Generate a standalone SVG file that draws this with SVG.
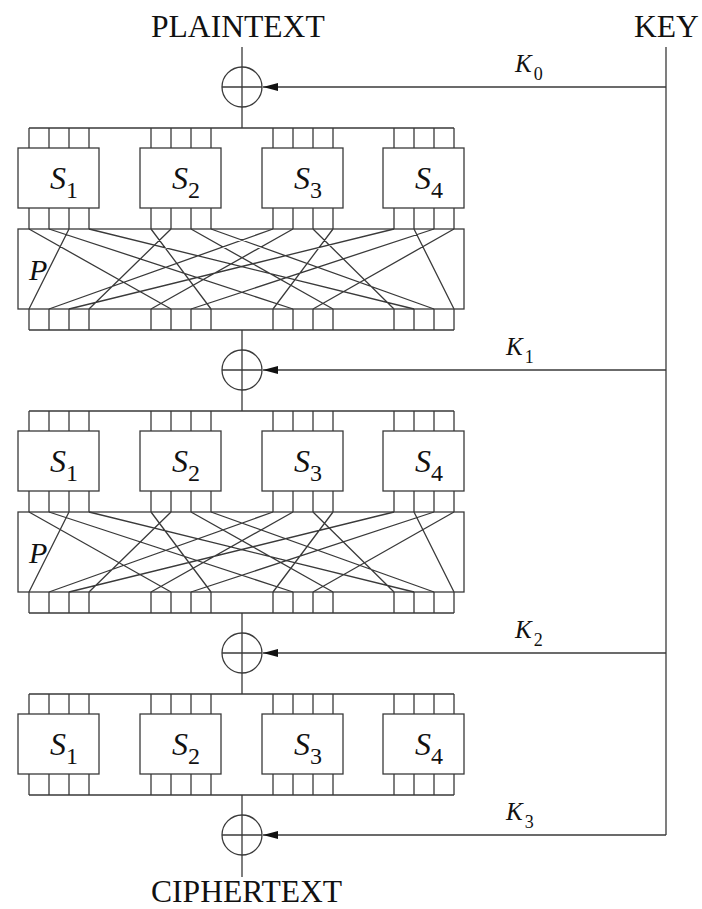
<svg xmlns="http://www.w3.org/2000/svg" xmlns:xlink="http://www.w3.org/1999/xlink" width="702" height="909" viewBox="0 0 702 909">
<style>
.ln{stroke:#3a3a3a;stroke-width:1.3;fill:none}
.bx{stroke:#3a3a3a;stroke-width:1.3;fill:#fff}
.pb{stroke:#3a3a3a;stroke-width:1.3;fill:none}
.t{font-family:"Liberation Serif","Times New Roman",serif;fill:#111}
.big{font-size:31.6px}
.sl{font-size:32px;font-style:italic}
.kl{font-size:25px;font-style:italic}
.sub{font-style:normal}
.ss{font-size:24px}
.ks{font-size:18px}
</style>
<defs>
<marker id="ah" viewBox="0 0 15 8" refX="15" refY="4" markerWidth="15" markerHeight="8" markerUnits="userSpaceOnUse" orient="auto">
<polygon points="0,0 15,4 0,8" fill="#111"/>
</marker>
<path id="pins20" d="M29 0V20M49 0V20M69 0V20M89 0V20M151 0V20M171 0V20M191 0V20M211 0V20M273 0V20M293 0V20M313 0V20M333 0V20M394 0V20M414 0V20M434 0V20M454 0V20"/>
<path id="pins21" d="M29 0V21M49 0V21M69 0V21M89 0V21M151 0V21M171 0V21M191 0V21M211 0V21M273 0V21M293 0V21M313 0V21M333 0V21M394 0V21M414 0V21M434 0V21M454 0V21"/>
<path id="wires" d="M29 0L171 80M49 0L293 80M69 0L29 80M89 0L414 80M151 0L211 80M171 0L89 80M191 0L333 80M211 0L434 80M273 0L49 80M293 0L151 80M313 0L394 80M333 0L273 80M394 0L69 80M414 0L454 80M434 0L191 80M454 0L313 80"/>
</defs>

<g id="connectors" class="ln">
<path d="M242 47V128M242 330V411M242 613V694M242 795V877"/>
<path d="M666 47V835"/>
<path d="M29 128H454M29 330H454M29 411H454M29 613H454M29 694H454M29 795H454"/>
<use xlink:href="#pins20" y="128"/>
<use xlink:href="#pins21" y="208"/>
<use xlink:href="#pins21" y="309"/>
<use xlink:href="#pins20" y="411"/>
<use xlink:href="#pins21" y="491"/>
<use xlink:href="#pins21" y="592"/>
<use xlink:href="#pins20" y="694"/>
<use xlink:href="#pins21" y="774"/>
<path d="M666 87H263" marker-end="url(#ah)"/>
<path d="M666 370H263" marker-end="url(#ah)"/>
<path d="M666 653H263" marker-end="url(#ah)"/>
<path d="M666 835H263" marker-end="url(#ah)"/>
</g>

<g id="xor0" class="ln"><circle cx="242" cy="87" r="20"/><path d="M222 87H262"/></g>
<g id="xor1" class="ln"><circle cx="242" cy="370" r="20"/><path d="M222 370H262"/></g>
<g id="xor2" class="ln"><circle cx="242" cy="653" r="20"/><path d="M222 653H262"/></g>
<g id="xor3" class="ln"><circle cx="242" cy="835" r="20"/><path d="M222 835H262"/></g>

<g id="r1s1"><rect class="bx" x="18" y="148" width="81" height="60"/><text class="t sl" x="50" y="189">S<tspan class="sub ss" dy="9">1</tspan></text></g>
<g id="r1s2"><rect class="bx" x="140" y="148" width="81" height="60"/><text class="t sl" x="172" y="189">S<tspan class="sub ss" dy="9">2</tspan></text></g>
<g id="r1s3"><rect class="bx" x="262" y="148" width="81" height="60"/><text class="t sl" x="294" y="189">S<tspan class="sub ss" dy="9">3</tspan></text></g>
<g id="r1s4"><rect class="bx" x="383" y="148" width="81" height="60"/><text class="t sl" x="415" y="189">S<tspan class="sub ss" dy="9">4</tspan></text></g>
<g id="p1"><rect class="pb" x="18" y="229" width="446" height="80"/><use xlink:href="#wires" y="229" class="ln"/><text class="t sl" x="29" y="280" style="font-size:30px">P</text></g>

<g id="r2s1"><rect class="bx" x="18" y="431" width="81" height="60"/><text class="t sl" x="50" y="472">S<tspan class="sub ss" dy="9">1</tspan></text></g>
<g id="r2s2"><rect class="bx" x="140" y="431" width="81" height="60"/><text class="t sl" x="172" y="472">S<tspan class="sub ss" dy="9">2</tspan></text></g>
<g id="r2s3"><rect class="bx" x="262" y="431" width="81" height="60"/><text class="t sl" x="294" y="472">S<tspan class="sub ss" dy="9">3</tspan></text></g>
<g id="r2s4"><rect class="bx" x="383" y="431" width="81" height="60"/><text class="t sl" x="415" y="472">S<tspan class="sub ss" dy="9">4</tspan></text></g>
<g id="p2"><rect class="pb" x="18" y="512" width="446" height="80"/><use xlink:href="#wires" y="512" class="ln"/><text class="t sl" x="29" y="563" style="font-size:30px">P</text></g>

<g id="r3s1"><rect class="bx" x="18" y="714" width="81" height="60"/><text class="t sl" x="50" y="755">S<tspan class="sub ss" dy="9">1</tspan></text></g>
<g id="r3s2"><rect class="bx" x="140" y="714" width="81" height="60"/><text class="t sl" x="172" y="755">S<tspan class="sub ss" dy="9">2</tspan></text></g>
<g id="r3s3"><rect class="bx" x="262" y="714" width="81" height="60"/><text class="t sl" x="294" y="755">S<tspan class="sub ss" dy="9">3</tspan></text></g>
<g id="r3s4"><rect class="bx" x="383" y="714" width="81" height="60"/><text class="t sl" x="415" y="755">S<tspan class="sub ss" dy="9">4</tspan></text></g>

<g id="plaintext"><text class="t big" x="151" y="37">PLAINTEXT</text></g>
<g id="key"><text class="t big" x="634" y="37">KEY</text></g>
<g id="ciphertext"><text class="t big" x="151" y="902">CIPHERTEXT</text></g>
<g id="k0"><text class="t kl" x="515" y="72">K<tspan class="sub ks" dx="2" dy="8">0</tspan></text></g>
<g id="k1"><text class="t kl" x="506" y="355">K<tspan class="sub ks" dx="2" dy="8">1</tspan></text></g>
<g id="k2"><text class="t kl" x="515" y="638">K<tspan class="sub ks" dx="2" dy="8">2</tspan></text></g>
<g id="k3"><text class="t kl" x="506" y="820">K<tspan class="sub ks" dx="2" dy="8">3</tspan></text></g>
</svg>
